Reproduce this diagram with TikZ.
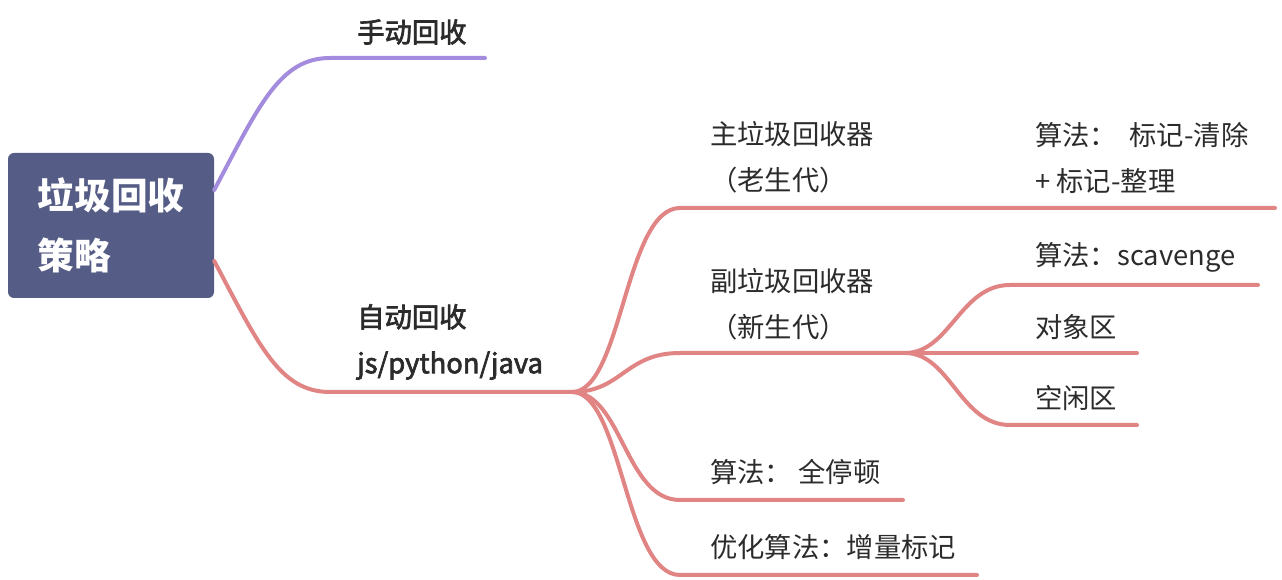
\documentclass[tikz,border=0pt]{standalone}
\usepackage{fontspec}
\setmainfont{Noto Sans CJK SC}
\newfontfamily\topicfont{Noto Sans CJK SC}[AutoFakeBold=2.5]
\usetikzlibrary{positioning}

\definecolor{rootfill}{HTML}{555C85}
\definecolor{manualline}{HTML}{A38BDD}
\definecolor{autoline}{HTML}{E08484}
\definecolor{labeltext}{HTML}{2B2B2B}

\begin{document}
\begin{tikzpicture}[
  x=0.75pt, y=-0.75pt,
  rootbox/.style={
    fill=rootfill,
    rounded corners=4.5pt,
    minimum width=154.5pt,
    minimum height=108.75pt,
    align=left,
    text=white,
    font=\fontsize{27.5}{45}\selectfont\bfseries
  },
  topic/.style={
    anchor=west,
    inner sep=0pt,
    align=left,
    text=labeltext,
    font=\fontsize{20.5}{34.5}\selectfont\topicfont\bfseries
  },
  leaf/.style={
    anchor=west,
    inner sep=0pt,
    align=left,
    text=labeltext,
    font=\fontsize{20.5}{34.5}\selectfont
  },
  branch/.style={
    line width=3pt,
    line cap=round
  }
]

\useasboundingbox (0,0) rectangle (1282,580);

\node[rootbox] (root) at (111,225.5) {垃圾回收\\策略};

\node[topic] (manual) at (357,32)  {手动回收};
\node[topic] (auto)   at (357,342) {自动回收\\js/python/java};

\node[leaf] (major)     at (710,157.5) {主垃圾回收器\\（老生代）};
\node[leaf] (minor)     at (710,304)   {副垃圾回收器\\（新生代）};
\node[leaf] (stopworld) at (710,472)   {算法： 全停顿};
\node[leaf] (increment) at (710,547)   {优化算法：增量标记};

\node[leaf] (majoralgo) at (1035,158) {算法：\ \ 标记-清除\\+\ 标记-整理};
\node[leaf] (scavenge)  at (1035,257) {算法：scavenge};
\node[leaf] (objspace)  at (1035,327) {对象区};
\node[leaf] (freespace) at (1035,398) {空闲区};

% line ends
\coordinate (manual-a) at (330,58);
\coordinate (manual-b) at (485,58);
\coordinate (auto-a)   at (330,392);
\coordinate (auto-b)   at (572,392);
\coordinate (major-a)  at (680,208);
\coordinate (major-b)  at (1275,208);
\coordinate (minor-a)  at (680,353);
\coordinate (minor-b)  at (905,353);
\coordinate (stop-a)   at (680,500);
\coordinate (stop-b)   at (903,500);
\coordinate (incr-a)   at (680,575);
\coordinate (incr-b)   at (977,575);
\coordinate (scav-a)   at (1010,285);
\coordinate (scav-b)   at (1258,285);
\coordinate (obj-b)    at (1137,353);
\coordinate (free-a)   at (1010,425);
\coordinate (free-b)   at (1137,425);

\draw[branch, manualline] (root.19)  .. controls +(45,-85) and +(-50,0) .. (manual-a) -- (manual-b);
\draw[branch, autoline]   (root.-19) .. controls +(45,85)  and +(-50,0) .. (auto-a)   -- (auto-b);

\draw[branch, autoline] (auto-b) .. controls +(50,0) and +(-55,0) .. (major-a) -- (major-b);
\draw[branch, autoline] (auto-b) .. controls +(50,0) and +(-55,0) .. (minor-a) -- (minor-b);
\draw[branch, autoline] (auto-b) .. controls +(50,0) and +(-55,0) .. (stop-a)  -- (stop-b);
\draw[branch, autoline] (auto-b) .. controls +(50,0) and +(-55,0) .. (incr-a)  -- (incr-b);

\draw[branch, autoline] (minor-b) .. controls +(45,0) and +(-50,0) .. (scav-a) -- (scav-b);
\draw[branch, autoline] (minor-b) -- (obj-b);
\draw[branch, autoline] (minor-b) .. controls +(45,0) and +(-50,0) .. (free-a) -- (free-b);

\end{tikzpicture}
\end{document}
